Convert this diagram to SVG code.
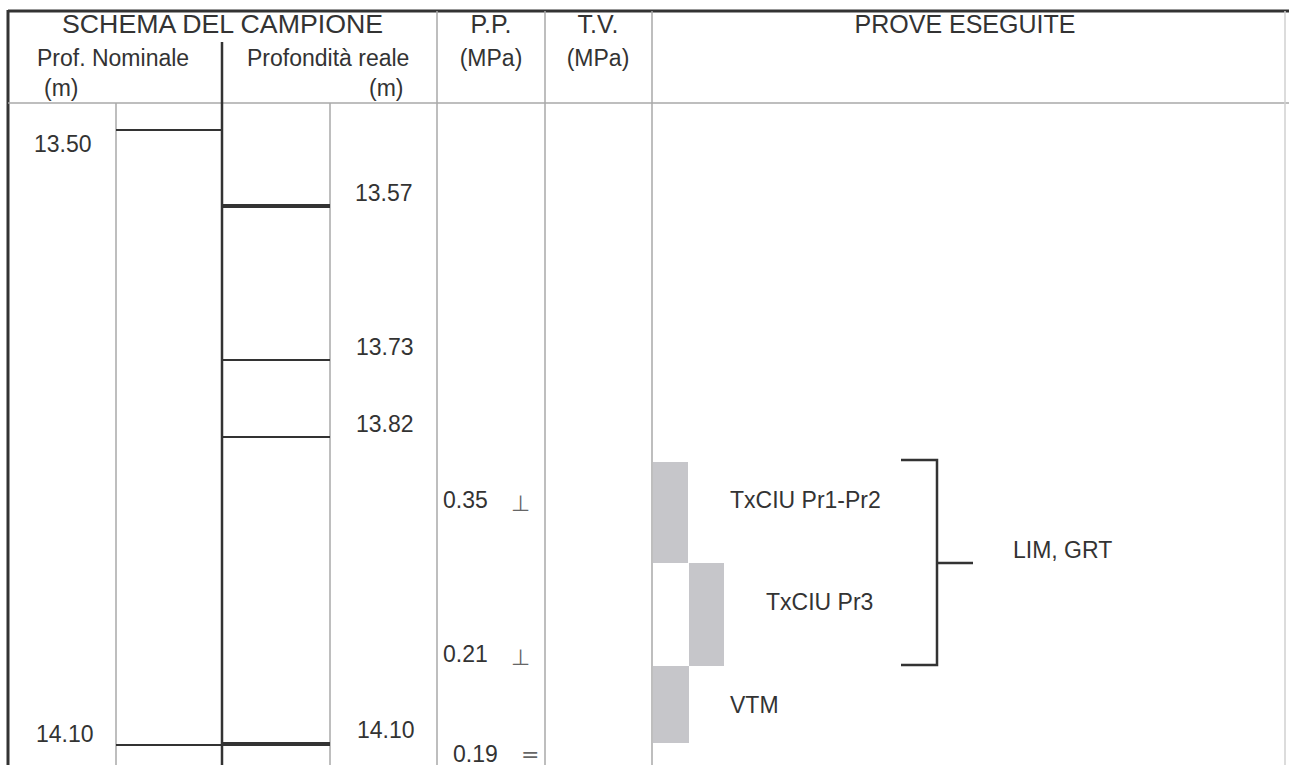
<svg xmlns="http://www.w3.org/2000/svg" width="1289" height="765" viewBox="0 0 1289 765">
  <style>
    .t { font-family: "Liberation Sans", Arial, sans-serif; fill: #333; }
    .h1 { font-size: 25px; }
    .h2 { font-size: 23px; }
    .v { font-size: 23px; }
    .sym { font-family: "DejaVu Sans", sans-serif; font-size: 22px; fill: #666; }
    .thin { stroke: #a8a8a8; stroke-width: 1.5; fill: none; }
    .dark { stroke: #333; stroke-width: 2.5; fill: none; }
    .mark { stroke: #333; stroke-width: 2.2; fill: none; }
    .markb { stroke: #333; stroke-width: 4; fill: none; }
    .bar { fill: #c6c6ca; }
    .br { stroke: #333; stroke-width: 2.5; fill: none; }
  </style>
  <rect x="0" y="0" width="1289" height="765" fill="#ffffff"/>

  <g id="grid">
    <line class="dark" x1="8" y1="11" x2="1289" y2="11" style="stroke-width:3"/>
    <line class="dark" x1="8" y1="10" x2="8" y2="765" style="stroke-width:3"/>
    <line class="thin" x1="8" y1="103" x2="1289" y2="103"/>
    <line class="thin" x1="1285" y1="11" x2="1285" y2="765" style="stroke:#d0d0d0"/>
    <line class="thin" x1="116" y1="103" x2="116" y2="765"/>
    <line class="dark" x1="222" y1="42" x2="222" y2="765"/>
    <line class="thin" x1="330" y1="103" x2="330" y2="765"/>
    <line class="thin" x1="437" y1="11" x2="437" y2="765"/>
    <line class="thin" x1="545" y1="11" x2="545" y2="765"/>
    <line class="thin" x1="652" y1="11" x2="652" y2="765"/>
  </g>

  <g id="header">
    <text class="t h1" x="62" y="33" textLength="321" lengthAdjust="spacingAndGlyphs">SCHEMA DEL CAMPIONE</text>
    <text class="t h1" x="491" y="33" text-anchor="middle">P.P.</text>
    <text class="t h1" x="598" y="33" text-anchor="middle">T.V.</text>
    <text class="t h1" x="965" y="33" text-anchor="middle">PROVE ESEGUITE</text>
    <text class="t h2" x="37" y="66">Prof. Nominale</text>
    <text class="t h2" x="247" y="66">Profondità reale</text>
    <text class="t h2" x="491" y="66" text-anchor="middle">(MPa)</text>
    <text class="t h2" x="598" y="66" text-anchor="middle">(MPa)</text>
    <text class="t h2" x="44" y="96">(m)</text>
    <text class="t h2" x="369" y="96">(m)</text>
  </g>

  <g id="depth-marks">
    <line class="mark" x1="116" y1="130" x2="222" y2="130"/>
    <line class="markb" x1="222" y1="206" x2="330" y2="206"/>
    <line class="mark" x1="222" y1="360" x2="330" y2="360"/>
    <line class="mark" x1="222" y1="437" x2="330" y2="437"/>
    <line class="mark" x1="116" y1="745" x2="222" y2="745"/>
    <line class="markb" x1="222" y1="744" x2="330" y2="744"/>
  </g>

  <g id="depth-labels">
    <text class="t v" x="34" y="152">13.50</text>
    <text class="t v" x="355" y="201">13.57</text>
    <text class="t v" x="356" y="355">13.73</text>
    <text class="t v" x="356" y="432">13.82</text>
    <text class="t v" x="36" y="742">14.10</text>
    <text class="t v" x="357" y="738">14.10</text>
  </g>

  <g id="pp-values">
    <text class="t v" x="443" y="508">0.35</text>
    <text class="sym" x="511" y="511">⊥</text>
    <text class="t v" x="443" y="662">0.21</text>
    <text class="sym" x="511" y="665">⊥</text>
    <text class="t v" x="453" y="762">0.19</text>
    <text class="sym" x="521" y="762">=</text>
  </g>

  <g id="tests">
    <g id="bar-pr12"><rect class="bar" x="653" y="462" width="35" height="101"/></g>
    <g id="bar-pr3"><rect class="bar" x="689" y="563" width="35" height="103"/></g>
    <g id="bar-vtm"><rect class="bar" x="653" y="666" width="36" height="77"/></g>
    <text class="t v" x="730" y="508">TxCIU Pr1-Pr2</text>
    <text class="t v" x="766" y="610">TxCIU Pr3</text>
    <text class="t v" x="730" y="713">VTM</text>
  </g>

  <g id="connectors">
    <polyline class="br" points="901,460 937,460 937,665 901,665"/>
    <line class="br" x1="937" y1="563" x2="973" y2="563"/>
  </g>

  <g id="group-label">
    <text class="t v" x="1013" y="558">LIM, GRT</text>
  </g>
</svg>
